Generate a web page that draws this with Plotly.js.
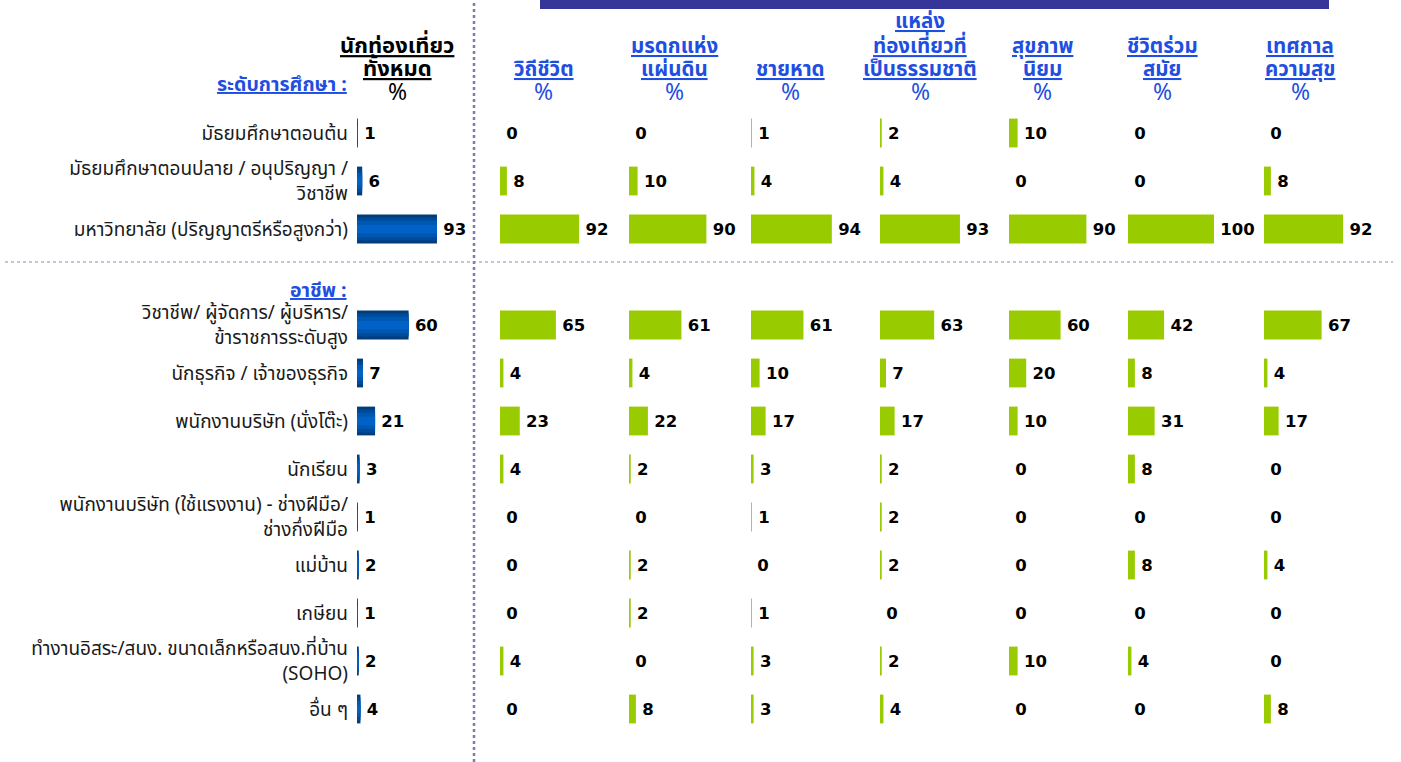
<!DOCTYPE html>
<html><head><meta charset="utf-8">
<script src="https://cdn.plot.ly/plotly-3.0.1.min.js"></script>
<style>html,body{margin:0;padding:0;background:#fff}#chart{width:1401px;height:762px}</style>
</head><body><div id="chart"></div>
<script>
// ---------- DATA ----------
const eduLabels = [
  'มัธยมศึกษาตอนต้น',
  'มัธยมศึกษาตอนปลาย / อนุปริญญา /<br>วิชาชีพ',
  'มหาวิทยาลัย (ปริญญาตรีหรือสูงกว่า)'
];
const occLabels = [
  'วิชาชีพ/ ผู้จัดการ/ ผู้บริหาร/<br>ข้าราชการระดับสูง',
  'นักธุรกิจ / เจ้าของธุรกิจ',
  'พนักงานบริษัท (นั่งโต๊ะ)',
  'นักเรียน',
  'พนักงานบริษัท (ใช้แรงงาน) - ช่างฝีมือ/<br>ช่างกึ่งฝีมือ',
  'แม่บ้าน',
  'เกษียน',
  'ทำงานอิสระ/สนง. ขนาดเล็กหรือสนง.ที่บ้าน<br>(SOHO)',
  'อื่น ๆ'
];
const sectionEdu = 'ระดับการศึกษา :';
const sectionOcc = 'อาชีพ :';
const totalHeader = ['นักท่องเที่ยว', 'ทั้งหมด'];
const colHeaders = [
  ['วิถีชีวิต'],
  ['มรดกแห่ง', 'แผ่นดิน'],
  ['ชายหาด'],
  ['แหล่ง', 'ท่องเที่ยวที่', 'เป็นธรรมชาติ'],
  ['สุขภาพ', 'นิยม'],
  ['ชีวิตร่วม', 'สมัย'],
  ['เทศกาล', 'ความสุข']
];
const totalVals   = [1, 6, 93, 60, 7, 21, 3, 1, 2, 1, 2, 4];
const wayOfLife   = [0, 8, 92, 65, 4, 23, 4, 0, 0, 0, 4, 0];
const heritage    = [0, 10, 90, 61, 4, 22, 2, 0, 2, 2, 0, 8];
const beach       = [1, 4, 94, 61, 10, 17, 3, 1, 0, 1, 3, 3];
const nature      = [2, 4, 93, 63, 7, 17, 2, 2, 2, 0, 2, 4];
const health      = [10, 0, 90, 60, 20, 10, 0, 0, 0, 0, 10, 0];
const contemporary= [0, 0, 100, 42, 8, 31, 8, 0, 8, 0, 4, 0];
const festival    = [0, 8, 92, 67, 4, 17, 0, 0, 4, 0, 0, 8];
const seriesVals = [wayOfLife, heritage, beach, nature, health, contemporary, festival];

// ---------- LAYOUT HELPERS ----------
const W = 1401, H = 762;
const px = p => p / W;
const py = p => 1 - p / H;
const categories = eduLabels.concat(occLabels);
const spacer = ' ';
const catOrder = eduLabels.concat([spacer], occLabels);
const barStarts = [500, 629, 751, 880, 1009, 1128, 1264];
const headerX = [543, 674, 790, 920, 1042, 1162, 1300];
const totalStart = 357;
const domW = 100, xMax = 116.3;
const rowTop = 133, rowStep = 48;
const headBottomY = 70, headStep = 24, pctY = 93;

const thaiFont = 'Tahoma, "Noto Sans Thai", "Noto Sans", "DejaVu Sans", sans-serif';
const numFont = '"DejaVu Sans", Verdana, sans-serif';
const green = '#99cc00';
const linkBlue = '#1f4fe0';
const lab = v => '\u2009' + v;

const traces = [];
// total: layered bars to mimic the vertical gradient
const blueLayers = [[0.6, '#003d7c'], [0.48, '#004b98'], [0.34, '#0057b2'], [0.18, '#0062c6']];
blueLayers.forEach(([w, c], i) => {
  traces.push({
    type: 'bar', orientation: 'h', y: categories, x: totalVals,
    xaxis: 'x', yaxis: 'y', width: w, marker: {color: c, line: {width: 0}},
    text: i === 0 ? totalVals.map(lab) : undefined,
    textposition: i === 0 ? 'outside' : 'none',
    textfont: {family: numFont, size: 16.5, color: '#000', weight: 'bold'},
    cliponaxis: false, constraintext: 'none', hoverinfo: 'skip', showlegend: false
  });
});
seriesVals.forEach((vals, i) => {
  traces.push({
    type: 'bar', orientation: 'h', y: categories, x: vals,
    xaxis: 'x' + (i + 2), yaxis: 'y', width: 0.6,
    marker: {color: green, line: {width: 0}},
    text: vals.map(lab), textposition: 'outside',
    textfont: {family: numFont, size: 16.5, color: '#000', weight: 'bold'},
    cliponaxis: false, constraintext: 'none', hoverinfo: 'skip', showlegend: false
  });
});

const hiddenX = (start) => ({
  domain: [px(start), px(start + domW)], range: [0, xMax], anchor: 'y',
  showgrid: false, zeroline: false, showline: false, showticklabels: false, ticks: '', fixedrange: true
});

const layout = {
  width: W, height: H, margin: {l: 0, r: 0, t: 0, b: 0},
  paper_bgcolor: '#fff', plot_bgcolor: 'rgba(0,0,0,0)',
  barmode: 'overlay', showlegend: false,
  font: {family: thaiFont},
  yaxis: {
    type: 'category', categoryorder: 'array', categoryarray: catOrder,
    range: [(H - rowTop) / rowStep, -rowTop / rowStep], domain: [0, 1], anchor: 'x',
    showgrid: false, zeroline: false, showline: false, ticks: '',
    ticklabelstandoff: 8, automargin: false, fixedrange: true,
    tickfont: {family: thaiFont, size: 19, color: '#1a1a1a'}
  },
  xaxis: hiddenX(totalStart),
  shapes: [
    {type: 'rect', xref: 'paper', yref: 'paper', x0: px(540), x1: px(1329), y0: py(9), y1: py(0),
     fillcolor: '#363699', line: {width: 0}, layer: 'below'},
    {type: 'line', xref: 'paper', yref: 'paper', x0: px(474), x1: px(474), y0: 0, y1: 1,
     line: {color: '#7d7daa', width: 2.5, dash: 'dot'}},
    {type: 'line', xref: 'paper', yref: 'paper', x0: px(5), x1: px(1393), y0: py(262), y1: py(262),
     line: {color: '#8a8ab4', width: 1.2, dash: 'dot'}}
  ],
  annotations: []
};
barStarts.forEach((s, i) => { layout['xaxis' + (i + 2)] = hiddenX(s); });

const ann = layout.annotations;
const u = s => '<u>' + s + '</u>';
const addHeader = (lines, xPix, size, color) => {
  lines.forEach((t, k) => {
    ann.push({xref: 'paper', yref: 'paper', x: px(xPix), y: py(headBottomY - headStep * (lines.length - 1 - k)),
      xanchor: 'center', yanchor: 'middle', borderpad: 0,
      text: u('<b>' + t + '</b>'), showarrow: false, font: {family: thaiFont, size: size, color: color}});
  });
  ann.push({xref: 'paper', yref: 'paper', x: px(xPix), y: py(pctY), xanchor: 'center', yanchor: 'middle',
    borderpad: 0, text: '%', showarrow: false, font: {family: thaiFont, size: 23, color: color}});
};
// section labels
ann.push({xref: 'paper', yref: 'paper', x: px(349), y: py(85), xanchor: 'right', yanchor: 'middle',
  text: u('<b>' + sectionEdu + '</b>'), showarrow: false, font: {family: thaiFont, size: 19.5, color: linkBlue}});
ann.push({xref: 'paper', yref: 'paper', x: px(349), y: py(291), xanchor: 'right', yanchor: 'middle',
  text: u('<b>' + sectionOcc + '</b>'), showarrow: false, font: {family: thaiFont, size: 19.5, color: linkBlue}});
// headers
addHeader(totalHeader, 397, 22, '#000');
colHeaders.forEach((lines, i) => addHeader(lines, headerX[i], 20.5, linkBlue));

Plotly.newPlot('chart', traces, layout, {displayModeBar: false, staticPlot: true});
</script></body></html>
